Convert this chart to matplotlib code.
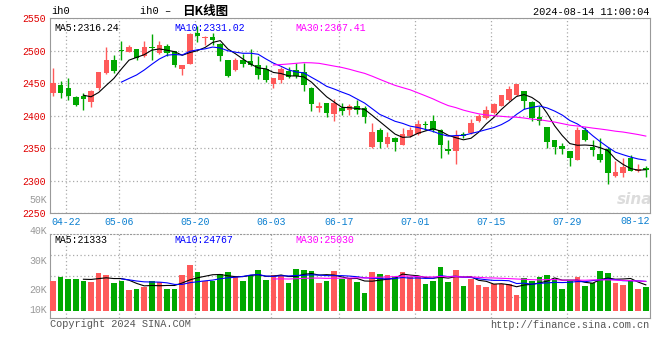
import numpy as np
import pandas as pd
import matplotlib
matplotlib.use('Agg')
import matplotlib.pyplot as plt

# daily K-line of ih0
opens = [2434, 2447, 2442, 2429, 2430, 2421, 2442, 2466, 2485, 2500,
         2498, 2502, 2492, 2506, 2496, 2507, 2499, 2471, 2480, 2527,
         2519, 2521, 2510, 2485, 2470, 2485, 2484, 2478, 2471, 2449,
         2455, 2469, 2470, 2467, 2442, 2412, 2420, 2402, 2411,
         2408, 2415, 2411, 2351, 2378, 2356, 2366, 2355, 2369, 2372,
         2387, 2391, 2377, 2349, 2345, 2371, 2373, 2392, 2396, 2404,
         2415, 2424, 2431, 2437, 2421, 2397, 2382, 2362, 2353, 2346,
         2332, 2378, 2352, 2341, 2348, 2307, 2312, 2334, 2315, 2319]
highs = [2473, 2453, 2458, 2430, 2435, 2440, 2467, 2506, 2493, 2514,
         2508, 2503, 2514, 2526, 2514, 2510, 2500, 2478, 2527, 2537,
         2522, 2527, 2512, 2486, 2488, 2495, 2502, 2492, 2478, 2458,
         2475, 2474, 2481, 2481, 2444, 2421, 2420, 2425, 2420,
         2418, 2424, 2414, 2389, 2381, 2374, 2367, 2381, 2382, 2393,
         2391, 2401, 2380, 2362, 2378, 2375, 2395, 2403, 2415, 2420,
         2432, 2445, 2449, 2438, 2423, 2415, 2382, 2362, 2357, 2346,
         2382, 2382, 2362, 2365, 2351, 2330, 2334, 2340, 2325, 2322]
lows = [2430, 2427, 2424, 2414, 2408, 2413, 2439, 2464, 2466, 2486,
        2497, 2486, 2490, 2486, 2494, 2492, 2475, 2462, 2479, 2513,
        2508, 2508, 2484, 2460, 2469, 2474, 2476, 2456, 2452, 2442,
        2450, 2457, 2457, 2437, 2407, 2406, 2397, 2392, 2401,
        2401, 2403, 2388, 2350, 2350, 2351, 2345, 2354, 2367, 2370,
        2377, 2374, 2335, 2341, 2326, 2365, 2372, 2390, 2395, 2403,
        2414, 2423, 2430, 2410, 2392, 2385, 2350, 2341, 2341, 2322,
        2331, 2361, 2338, 2328, 2294, 2306, 2305, 2315, 2313, 2305]
closes = [2450, 2434, 2430, 2416, 2426, 2438, 2467, 2485, 2469, 2499,
          2506, 2488, 2506, 2504, 2508, 2496, 2477, 2478, 2525, 2523,
          2520, 2516, 2492, 2461, 2486, 2479, 2478, 2462, 2454, 2458,
          2471, 2460, 2461, 2447, 2418, 2414, 2404, 2420, 2407,
          2415, 2408, 2397, 2374, 2359, 2367, 2360, 2372, 2377, 2387,
          2385, 2377, 2354, 2345, 2368, 2369, 2389, 2400, 2409, 2418,
          2431, 2441, 2448, 2423, 2396, 2391, 2360, 2351, 2348, 2334,
          2378, 2362, 2347, 2331, 2312, 2313, 2321, 2315, 2318, 2316]
volumes = [25300, 28300, 26700, 26700, 25300, 24400, 31900, 30000, 23600, 25300,
           17500, 18600, 19700, 25300, 24200, 18600, 18600, 30000, 38300, 32800,
           25000, 25000, 31100, 32800, 29200, 25300, 30000, 34200, 25800, 30000,
           30000, 23600, 35000, 34200, 33300, 23600, 25300, 33300, 26400,
           26400, 24200, 14700, 32500, 30800, 30000, 28100, 32500, 28100, 28100,
           22500, 25300, 36700, 24400, 34200, 20800, 26700, 21700, 20300, 22500,
           22500, 22500, 13300, 27500, 25300, 28300, 30000, 26700, 18300, 25300,
           28300, 20800, 23100, 33300, 31900, 23300, 21700, 25300, 18300, 20300]

date_idx = [2, 9, 19, 29, 38, 48, 58, 68]
date_labels = ['04-22', '05-06', '05-20', '06-03', '06-17', '07-01', '07-15', '07-29']
last_label = '08-12'
price_ticks = [2250, 2300, 2350, 2400, 2450, 2500, 2550]
vol_labels = ['50K', '40K', '30K', '20K', '10K']

RED = '#ff5a5a'
GREEN = '#00a800'
GRID = '#aaaaaa'
EDGE = '#999999'
MONO = 'Liberation Mono'
FS = 7.1

W, H = 660, 360
fig = plt.figure(figsize=(W / 100, H / 100), dpi=100)
ax = fig.add_axes([50 / W, 1 - 213 / H, 600 / W, 195 / H])
axv = fig.add_axes([50 / W, 1 - 318 / H, 600 / W, 84 / H])

o = np.array(opens, float)
c = np.array(closes, float)
hi = np.array(highs, float)
lo = np.array(lows, float)
vol = np.array(volumes, float)
n = len(c)
x = np.arange(n)
cols = np.where(c >= o, RED, GREEN)
xl = (-0.4, n - 1 + 0.55)

# price panel
ax.vlines(x, lo, hi, colors=cols, lw=1, zorder=3)
ax.bar(x, np.maximum(np.abs(c - o), 1.5), bottom=np.minimum(o, c), width=0.72,
       color=cols, lw=0, zorder=3)
cs = pd.Series(c)
ax.plot(x, cs.rolling(5).mean(), color='black', lw=0.8, zorder=4)
ax.plot(x, cs.rolling(10).mean(), color='blue', lw=0.8, zorder=4)
ax.plot(x, cs.rolling(30).mean(), color='magenta', lw=0.8, zorder=4)
ax.set_xlim(*xl)
ax.set_ylim(2250, 2550)
ax.set_yticks(price_ticks)
ax.set_yticklabels([str(t) for t in price_ticks], color='#e00000', family=MONO, fontsize=FS)
ax.set_xticks([d - 0.35 for d in date_idx])
ax.set_xticklabels(date_labels, color='#0a7fd0', family=MONO, fontsize=FS)
ax.tick_params(length=0, pad=3)
ax.grid(True, ls=(0, (1, 2)), color=GRID, lw=0.9)
for s in ax.spines.values():
    s.set_color(EDGE)
ax.text(1.0, -0.017, last_label, transform=ax.transAxes, ha='right', va='top',
        color='#0a7fd0', family=MONO, fontsize=FS)

ax.text(4 / 600, 0.975, 'MA5:2316.24', transform=ax.transAxes, va='top',
        family=MONO, fontsize=FS, color='black')
ax.text(124 / 600, 0.975, 'MA10:2331.02', transform=ax.transAxes, va='top',
        family=MONO, fontsize=FS, color='blue')
ax.text(245 / 600, 0.975, 'MA30:2367.41', transform=ax.transAxes, va='top',
        family=MONO, fontsize=FS, color='magenta')
ax.text(0.975, 0.07, 'sina', transform=ax.transAxes, ha='center', va='center',
        fontsize=11, fontweight='bold', style='italic', color='#dcdcdc', zorder=1)

# volume panel
vs = pd.Series(vol)
axv.bar(x, vol, width=0.75, color=cols, lw=0, zorder=3)
axv.plot(x, vs.rolling(5).mean(), color='black', lw=0.8, zorder=4)
axv.plot(x, vs.rolling(10).mean(), color='blue', lw=0.8, zorder=4)
axv.plot(x, vs.rolling(30).mean(), color='magenta', lw=0.8, zorder=4)
axv.set_xlim(*xl)
vlo, vhi = -5833, 64167
axv.set_ylim(vlo, vhi)
axv.set_yticks([vlo + (vhi - vlo) * f for f in (0.25, 0.5, 0.75)])
axv.set_yticklabels([])
axv.set_xticks([d - 0.35 for d in date_idx])
axv.set_xticklabels([])
axv.tick_params(length=0)
axv.grid(True, ls=(0, (1, 2)), color=GRID, lw=0.9)
for s in axv.spines.values():
    s.set_color(EDGE)
axv.spines['top'].set_linestyle((0, (1, 2)))
axv.text(4 / 600, 0.985, 'MA5:21333', transform=axv.transAxes, va='top',
         family=MONO, fontsize=FS, color='black')
axv.text(124 / 600, 0.985, 'MA10:24767', transform=axv.transAxes, va='top',
         family=MONO, fontsize=FS, color='blue')
axv.text(245 / 600, 0.985, 'MA30:25030', transform=axv.transAxes, va='top',
         family=MONO, fontsize=FS, color='magenta')

for lab, yy in zip(vol_labels, [200, 231, 261, 290, 310]):
    fig.text(47 / W, 1 - yy / H, lab, ha='right', va='center', color='#999999',
             family=MONO, fontsize=FS)

# header / footer
fig.text(51 / W, 1 - 11.5 / H, 'ih0', ha='left', va='center', family=MONO, fontsize=7.5)
fig.text(140 / W, 1 - 11.5 / H, 'ih0 \u2013', ha='left', va='center', family=MONO, fontsize=7.5)
fig.text(182 / W, 1 - 11.5 / H, '日K线图', ha='left', va='center',
         family=['Noto Sans CJK SC', 'DejaVu Sans'], fontsize=9, fontweight='bold')
fig.text(649 / W, 1 - 12 / H, '2024-08-14 11:00:04', ha='right', va='center',
         family=MONO, fontsize=7.4)
fig.text(50 / W, 1 - 324 / H, 'Copyright 2024 SINA.COM', ha='left', va='center',
         family=MONO, fontsize=7.4, color='#555555')
fig.text(649 / W, 1 - 325 / H, 'http://finance.sina.com.cn', ha='right', va='center',
         family=MONO, fontsize=7.4, color='#555555')

fig.savefig('out.png', dpi=100)
